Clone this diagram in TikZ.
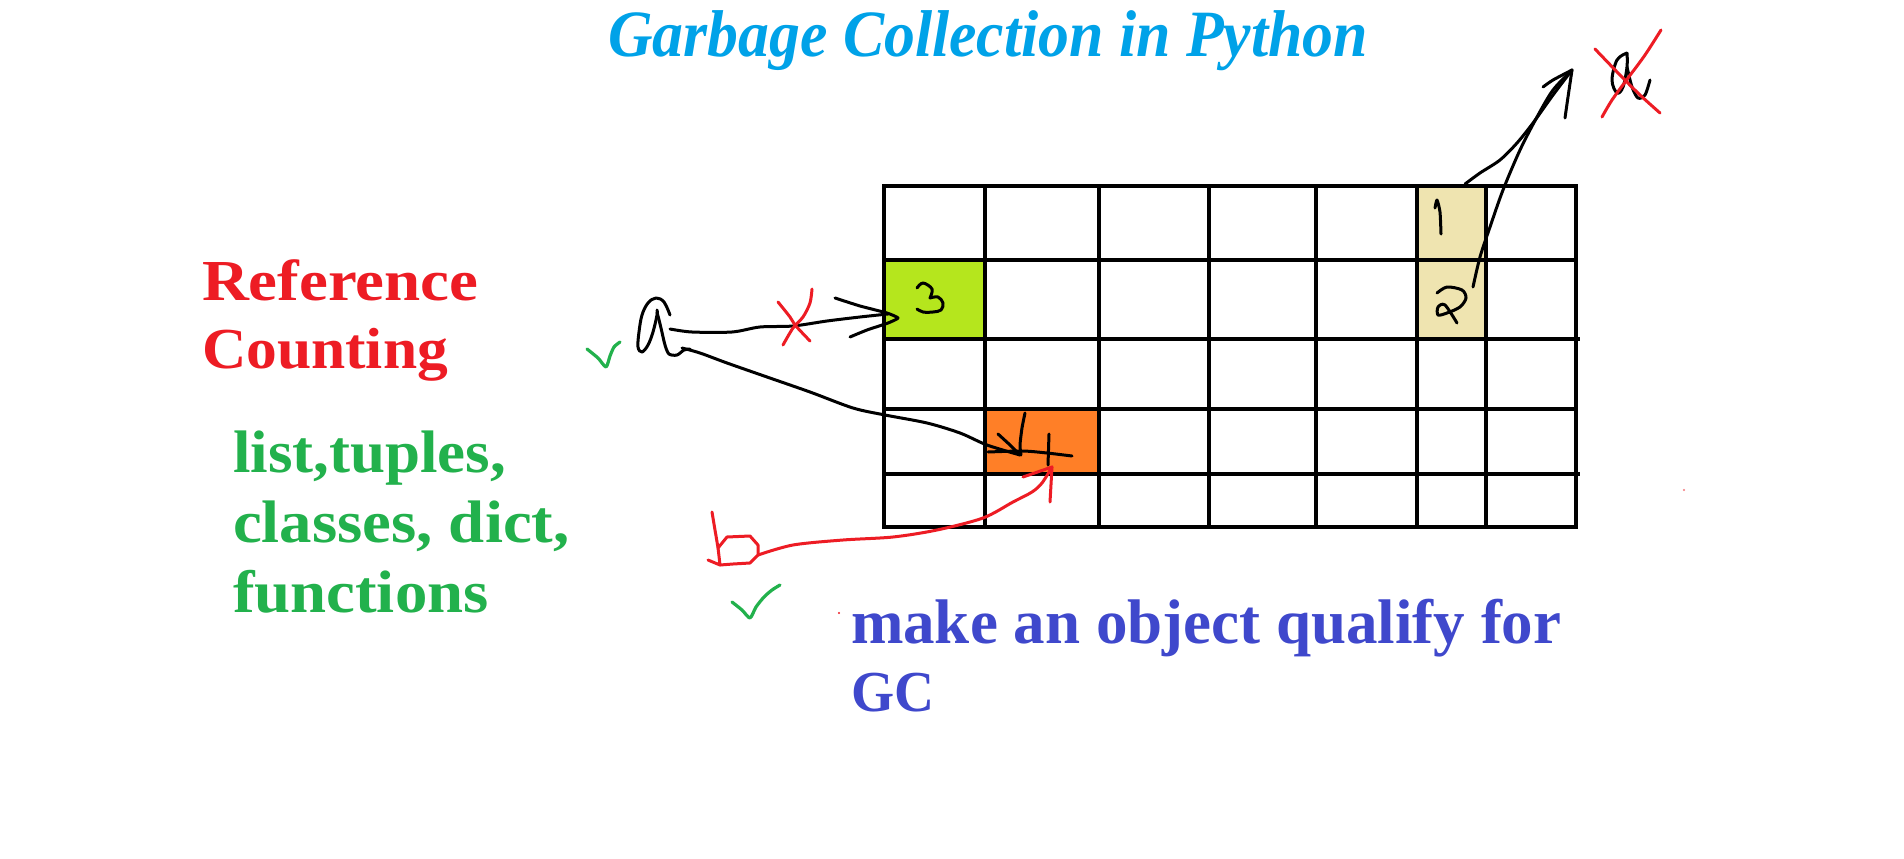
\documentclass[tikz,border=0pt]{standalone}
\usepackage{fontspec}
\setmainfont{Liberation Serif}
\definecolor{paintcyan}{HTML}{00A2E8}
\definecolor{paintred}{HTML}{ED1C24}
\definecolor{paintgreen}{HTML}{22B14C}
\definecolor{paintblue}{HTML}{3F48CC}
\definecolor{limecell}{HTML}{B5E61D}
\definecolor{tancell}{HTML}{EFE4B0}
\definecolor{orangecell}{HTML}{FF7F27}
\tikzset{
  pen/.style={line width=3pt, line cap=round, line join=round},
  inkblack/.style={pen, draw=black},
  inkred/.style={pen, draw=paintred},
  inkgreen/.style={pen, draw=paintgreen, line width=3.2pt},
  gridline/.style={line width=4.5pt, draw=black},
  cellfill/.style={draw=none, inner sep=0pt, outer sep=0pt, anchor=north west},
  lbl/.style={anchor=base west, inner sep=0pt, outer sep=0pt},
}
\begin{document}
\begin{tikzpicture}[x=1pt,y=-1pt]
\useasboundingbox (0,0) rectangle (1904,859);
\fill[white] (0,0) rectangle (1904,859);

% title
\node[anchor=base, inner sep=0pt, text=paintcyan, font=\fontsize{63}{66}\selectfont\bfseries\itshape] (title) at (988,57) {\scalebox{0.98}[1.05]{Garbage Collection in Python}};

% left texts
\node[lbl, text=paintred, font=\fontsize{58}{60}\selectfont\bfseries] (ref1) at (202,300) {\scalebox{1.12}[1]{Reference}};
\node[lbl, text=paintred, font=\fontsize{58}{60}\selectfont\bfseries] (ref2) at (202,368) {\scalebox{1.06}[1]{Counting}};
\node[lbl, text=paintgreen, font=\fontsize{60}{62}\selectfont\bfseries] (typ1) at (233,472) {\scalebox{1.05}[1]{list,tuples,}};
\node[lbl, text=paintgreen, font=\fontsize{60}{62}\selectfont\bfseries] (typ2) at (233,542) {\scalebox{1.08}[1]{classes, dict,}};
\node[lbl, text=paintgreen, font=\fontsize{60}{62}\selectfont\bfseries] (typ3) at (233,612) {\scalebox{1.08}[1]{functions}};

% bottom text
\node[lbl, text=paintblue, font=\fontsize{63}{66}\selectfont\bfseries] (gc1) at (851,643) {make an object qualify for};
\node[lbl, text=paintblue, font=\fontsize{63}{66}\selectfont\bfseries] (gc2) at (851,711) {\scalebox{0.88}[0.92]{GC}};

% coloured cells
\node[cellfill, fill=limecell, minimum width=101pt, minimum height=79pt] (cellThree) at (884,260) {};
\node[cellfill, fill=tancell, minimum width=69pt, minimum height=74pt] (cellOne) at (1417,186) {};
\node[cellfill, fill=tancell, minimum width=69pt, minimum height=79pt] (cellTwo) at (1417,260) {};
\node[cellfill, fill=orangecell, minimum width=114pt, minimum height=65pt] (cellFour) at (985,409) {};

% grid
\draw[gridline] (884,186) rectangle (1576,527);
\foreach \yy in {260,409} \draw[gridline] (884,\yy) -- (1576,\yy);
\foreach \yy in {339,474} \draw[gridline] (884,\yy) -- (1580,\yy);
\foreach \xx in {985,1099,1209,1316,1417,1486} \draw[gridline] (\xx,186) -- (\xx,527);

% handwritten digits
\draw[inkblack] plot[smooth, tension=0.6] coordinates {(917,288) (923,283) (932,289) (930,298)};
\draw[inkblack] plot[smooth, tension=0.6] coordinates {(930,298) (938,297) (943,303) (941,310) (933,312) (923,312) (917,309)};
\draw[inkblack] plot[smooth, tension=0.4] coordinates {(1435,208) (1437,200) (1440,212) (1441,234)};
\draw[inkblack] plot[smooth, tension=0.5] coordinates {(1437,293) (1447,287) (1462,290) (1466,298) (1460,307) (1447,313) (1438,315) (1438,307) (1445,305) (1457,323)};
\draw[inkblack] plot[smooth, tension=0.4] coordinates {(1025,413) (1022,428) (1020,445) (1021,455)};
\draw[inkblack] plot[smooth, tension=0.4] coordinates {(988,452) (1023,451) (1047,453) (1072,456)};
\draw[inkblack] (1049,434) -- (1048,465);

% handwritten "a" (left)
\coordinate (aLeft) at (670,329);
\coordinate (aLow) at (682,348);
\draw[inkblack] plot[smooth, tension=0.6] coordinates {(670,315) (664,302) (656,298) (648,303) (642,315) (639,332) (638,347) (642,352) (648,345) (653,332) (657,315) (657,310)};
\draw[inkblack] plot[smooth, tension=0.5] coordinates {(657,312) (661,328) (665,345) (669,354) (677,355) (684,350) (690,349)};

% arrow a -> 3 (crossed)
\coordinate (tipThree) at (898,318);
\draw[inkblack] plot[smooth, tension=0.5] coordinates {(aLeft) (692,332) (732,332) (760,327) (793,326) (827,321) (860,317) (888,314)};
\draw[inkblack] plot[smooth, tension=0.3] coordinates {(835,298) (860,306) (887,313) (tipThree) (888,323) (867,330) (850,337)};
\draw[inkred] plot[smooth, tension=0.5] coordinates {(778,302) (790,317) (795,325) (810,341)};
\draw[inkred] plot[smooth, tension=0.5] coordinates {(812,289) (810,303) (803,317) (793,328) (783,345)};

% arrow a -> 4
\coordinate (tipFour) at (1020,455);
\draw[inkblack] plot[smooth, tension=0.5] coordinates {(aLow) (700,353) (727,363) (767,377) (810,392) (853,408) (885,415) (927,423) (960,433) (987,445) (tipFour)};
\draw[inkblack] plot[smooth, tension=0.4] coordinates {(998,434) (1010,445) (tipFour)};

% handwritten "b" and red arrow b -> 4
\coordinate (bEnd) at (758,555);
\coordinate (tipRed) at (1052,467);
\draw[inkred] plot[smooth, tension=0.4] coordinates {(712,512) (715,530) (718,548) (720,565)};
\draw[inkred] (718,548) -- (727,537) -- (750,536) -- (758,545) -- (bEnd) -- (750,563) -- (733,564) -- (720,565) -- (708,560);
\draw[inkred] plot[smooth, tension=0.5] coordinates {(bEnd) (793,545) (843,540) (893,537) (937,530) (983,518) (1013,502) (1032,492) (1042,483) (tipRed)};
\draw[inkred] (1023,477) -- (tipRed) -- (1050,502);

% arrows 1,2 -> crossed "a" (top right)
\coordinate (tipA) at (1572,70);
\draw[inkblack] plot[smooth, tension=0.5] coordinates {(1465,184) (1480,173) (1500,160) (1517,143) (1533,123) (1553,95) (tipA)};
\draw[inkblack] plot[smooth, tension=0.5] coordinates {(1473,287) (1480,257) (1490,227) (1503,190) (1520,150) (1537,117) (1553,90) (tipA)};
\draw[inkblack] plot[smooth, tension=0.4] coordinates {(1543,87) (1553,80) (tipA)};
\draw[inkblack] plot[smooth, tension=0.4] coordinates {(1565,118) (1568,97) (tipA)};

% handwritten "a" (top right) crossed out
\draw[inkblack] plot[smooth, tension=0.6] coordinates {(1627,53) (1617,60) (1612,80) (1617,93) (1623,87) (1627,67) (1627,53)};
\draw[inkblack] plot[smooth, tension=0.5] coordinates {(1627,67) (1632,87) (1638,98) (1645,95) (1650,80)};
\draw[inkred] plot[smooth, tension=0.5] coordinates {(1595,49) (1620,75) (1640,95) (1660,113)};
\draw[inkred] plot[smooth, tension=0.5] coordinates {(1661,30) (1645,55) (1628,78) (1612,100) (1602,117)};

% green ticks
\draw[inkgreen] plot[smooth, tension=0.4] coordinates {(587,349) (598,358) (606,367) (610,356) (614,347) (620,342)};
\draw[inkgreen] plot[smooth, tension=0.4] coordinates {(732,602) (742,610) (750,618) (756,607) (764,597) (772,590) (780,585)};

% tiny specks
\fill[paintred] (839,613) circle (1.2);
\fill[paintred!60] (1684,490) circle (1.2);
\end{tikzpicture}
\end{document}
